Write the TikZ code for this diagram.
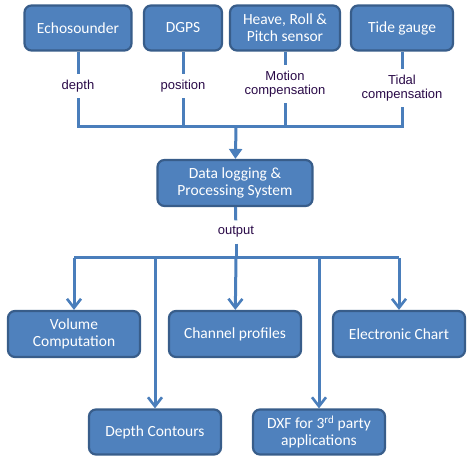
\documentclass[tikz,border=0pt]{standalone}
\usepackage{fontspec}
\setmainfont{Carlito}
\newfontfamily\labelfont{Liberation Sans}
\usetikzlibrary{arrows.meta}
\definecolor{boxfill}{HTML}{4F81BD}
\definecolor{boxline}{HTML}{385D8A}
\definecolor{linkcol}{HTML}{4A7EBB}
\definecolor{labeltext}{HTML}{2A0A48}

\begin{document}
\begin{tikzpicture}[x=1pt,y=-1pt,
    box/.style={draw=boxline, line width=2.2pt, fill=boxfill, rounded corners=7pt,
        text=white, font=\fontsize{15.5}{17}\selectfont, align=center, inner sep=2pt},
    flowlabel/.style={fill=white, text=labeltext, font=\labelfont\fontsize{13}{14.5}\selectfont,
        align=center, inner sep=1pt, outer sep=5pt},
    link/.style={draw=linkcol, line width=3pt},
    outarrow/.style={link, -{Straight Barb[length=9pt,width=14pt,line width=2.6pt]}}]

    \useasboundingbox (0,0) rectangle (475,465);

    % sensors
    \node[box, minimum width=107pt, minimum height=45pt] (echo) at (78,28) {Echosounder};
    \node[box, minimum width=78pt, minimum height=45pt] (dgps) at (183,28) {DGPS};
    \node[box, minimum width=110pt, minimum height=45pt] (heave) at (285,28) {Heave, Roll \&\\ Pitch sensor};
    \node[box, minimum width=102pt, minimum height=45pt] (tide) at (402,28) {Tide gauge};

    \node[flowlabel] (depth) at (78,86) {depth};
    \node[flowlabel] (position) at (183,86) {position};
    \node[flowlabel] (motion) at (285,84) {Motion\\compensation};
    \node[flowlabel] (tidal) at (402,88) {Tidal\\compensation};

    \coordinate (topbus) at (236,127);

    \draw[link] (echo) -- (depth);
    \draw[link] (dgps) -- (position);
    \draw[link] (heave) -- (motion);
    \draw[link] (tide) -- (tidal);
    \draw[link] (depth) -- (depth |- topbus) -| (tidal);
    \draw[link] (position) -- (position |- topbus);
    \draw[link] (motion) -- (motion |- topbus);

    % processing
    \node[box, minimum width=155pt, minimum height=46pt] (dls) at (235,183) {Data logging \&\\ Processing System};
    \draw[link, -{Triangle[length=10pt,width=13pt]}] (topbus) -- (dls);

    \node[flowlabel] (output) at (236,232) {output};
    \coordinate (botbus) at (236,258);
    \draw[link] (dls) -- (output);
    \draw[link] (output) -- (botbus);

    % products
    \node[box, minimum width=132pt, minimum height=46pt] (volume) at (74,334) {Volume\\Computation};
    \node[box, minimum width=132pt, minimum height=46pt] (channel) at (235,334) {Channel profiles};
    \node[box, minimum width=132pt, minimum height=46pt] (chart) at (399,334) {Electronic Chart};
    \node[box, minimum width=132pt, minimum height=45pt] (contours) at (155,432) {Depth Contours};
    \node[box, minimum width=132pt, minimum height=45pt] (dxf) at (319,432) {DXF for 3\textsuperscript{rd} party\\applications};

    \draw[link] (volume.north |- botbus) -- (chart.north |- botbus);
    \draw[outarrow] (volume.north |- botbus) -- (volume);
    \draw[outarrow] (botbus) -- (channel);
    \draw[outarrow] (chart.north |- botbus) -- (chart);
    \draw[outarrow] (contours.north |- botbus) -- (contours);
    \draw[outarrow] (dxf.north |- botbus) -- (dxf);

\end{tikzpicture}
\end{document}
